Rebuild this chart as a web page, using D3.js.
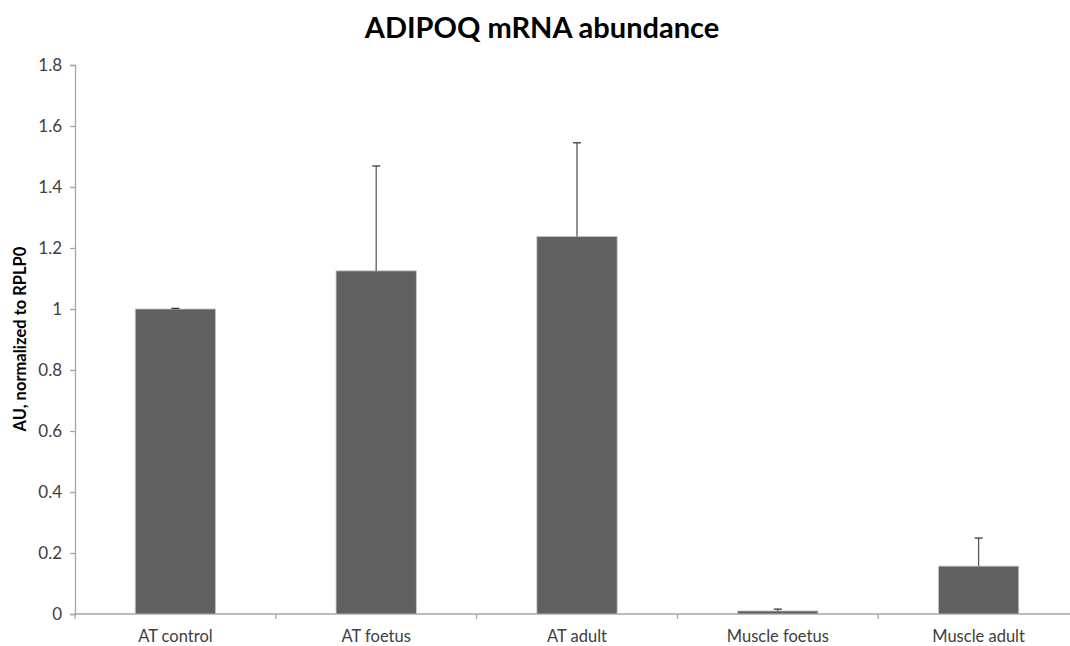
<!DOCTYPE html>
<meta charset="utf-8">
<script src="https://d3js.org/d3.v7.min.js"></script>
<style>
  body { margin: 0; background: #fff; }
  text { font-family: Lato, "Open Sans", sans-serif; }
</style>
<div id="chart"></div>
<script>
  // data
  var categories = ["AT control", "AT foetus", "AT adult", "Muscle foetus", "Muscle adult"];
  var means = [1.0, 1.125, 1.238, 0.01, 0.157];
  var errTops = [1.002, 1.469, 1.545, 0.016, 0.249];
  var yTicks = [0, 0.2, 0.4, 0.6, 0.8, 1, 1.2, 1.4, 1.6, 1.8];

  var W = 1070, H = 646;
  var margin = { top: 65, right: -9, bottom: 32, left: 75 };
  var width = W - margin.left - margin.right,
      height = H - margin.top - margin.bottom;

  var svg = d3.select("#chart").append("svg")
    .attr("width", W).attr("height", H);

  var g = svg.append("g")
    .attr("transform", "translate(" + margin.left + "," + margin.top + ")");

  var x = d3.scaleBand().domain(categories).range([0, width]).paddingInner(0.6).paddingOuter(0.3);
  var y = d3.scaleLinear().domain([0, 1.8]).range([height, 0]);

  // y axis
  var yAxis = g.append("g")
    .call(d3.axisLeft(y).tickValues(yTicks).tickSize(5).tickPadding(8)
      .tickFormat(function (d) { return d3.format("")(+d.toFixed(1)); }));
  yAxis.selectAll("line, path").attr("stroke", "#a6a6a6").attr("stroke-width", 1.3);
  yAxis.selectAll("text").style("font-size", "17px").attr("fill", "#404040");

  // x axis (ticks between categories)
  var xAxis = g.append("g").attr("transform", "translate(0," + height + ")");
  xAxis.append("line").attr("x1", 0).attr("x2", width).attr("stroke", "#a6a6a6").attr("stroke-width", 1.3);
  xAxis.selectAll("line.tk")
    .data(d3.range(categories.length + 1))
    .enter().append("line").attr("class", "tk")
    .attr("x1", function (i) { return i * width / categories.length; })
    .attr("x2", function (i) { return i * width / categories.length; })
    .attr("y1", 0).attr("y2", 5)
    .attr("stroke", "#a6a6a6").attr("stroke-width", 1.3);
  xAxis.selectAll("text")
    .data(categories)
    .enter().append("text")
    .attr("x", function (d) { return x(d) + x.bandwidth() / 2; })
    .attr("y", 28)
    .attr("text-anchor", "middle")
    .attr("fill", "#404040")
    .style("font-size", "16.5px")
    .text(function (d) { return d; });

  // bars
  g.selectAll("rect.bar")
    .data(categories)
    .enter().append("rect").attr("class", "bar")
    .attr("x", function (d) { return x(d); })
    .attr("y", function (d, i) { return y(means[i]); })
    .attr("width", x.bandwidth())
    .attr("height", function (d, i) { return height - y(means[i]); })
    .attr("fill", "#606060")
    .attr("stroke", "#c8c8c8")
    .attr("stroke-width", 0.8);

  // error bars (upper only)
  var eb = g.selectAll("g.err")
    .data(categories)
    .enter().append("g").attr("class", "err");
  eb.append("line")
    .attr("x1", function (d) { return x(d) + x.bandwidth() / 2; })
    .attr("x2", function (d) { return x(d) + x.bandwidth() / 2; })
    .attr("y1", function (d, i) { return y(means[i]); })
    .attr("y2", function (d, i) { return y(errTops[i]); })
    .attr("stroke", "#5a5a5a").attr("stroke-width", 1.3);
  eb.append("line")
    .attr("x1", function (d) { return x(d) + x.bandwidth() / 2 - 4; })
    .attr("x2", function (d) { return x(d) + x.bandwidth() / 2 + 4; })
    .attr("y1", function (d, i) { return y(errTops[i]); })
    .attr("y2", function (d, i) { return y(errTops[i]); })
    .attr("stroke", "#3a3a3a").attr("stroke-width", 1.3);

  // titles
  svg.append("text")
    .attr("x", 542).attr("y", 38)
    .attr("text-anchor", "middle")
    .style("font-size", "29px").style("font-weight", "bold")
    .attr("fill", "#000")
    .text("ADIPOQ mRNA abundance");

  svg.append("text")
    .attr("transform", "translate(26," + 339 + ") rotate(-90)")
    .attr("text-anchor", "middle")
    .style("font-size", "16.5px").style("font-weight", "bold")
    .attr("fill", "#000")
    .text("AU, normalized to RPLP0");
</script>
